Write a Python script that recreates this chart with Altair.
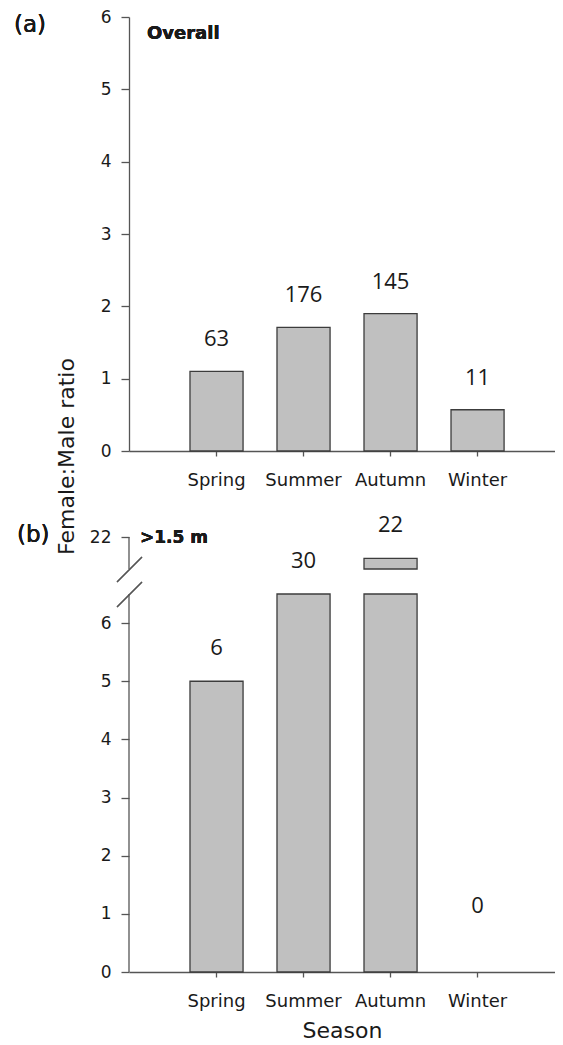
import altair as alt
import pandas as pd

# ---------------- data ----------------
seasons = ["Spring", "Summer", "Autumn", "Winter"]
ratio_overall = [1.1, 1.71, 1.9, 0.57]
n_overall = [63, 176, 145, 11]
ratio_large = [5.0, 6.5, 21.0, 0.0]
n_large = [6, 30, 22, 0]

y_ticks_a = [0, 1, 2, 3, 4, 5, 6]
y_ticks_b = [0, 1, 2, 3, 4, 5, 6, 22]
break_low = 6.5      # axis break starts
break_high = 20.5    # axis break ends
y_top_b = 22
label_floor = 0.57   # minimum anchor height for count labels of empty bars

# ---------------- style ----------------
FONT = "DejaVu Sans"
NUM_FONT = "Open Sans"
FILL = "#c0c0c0"
STROKE = "#3c3c3c"
AXIS = "#555555"
TEXT = "#1a1a1a"
W = 426
HA = 434
HB = 435

df_a = pd.DataFrame({"season": seasons, "ratio": ratio_overall, "n": n_overall})
df_b = pd.DataFrame({"season": seasons, "ratio": ratio_large, "n": n_large})

xscale = alt.Scale(domain=seasons, paddingInner=0.39, paddingOuter=0.643, align=0.545)


def x_axis(show_title):
    kw = dict(labelAngle=0, tickSize=5, labelPadding=15, labelFontSize=18, labelFont=FONT,
              labelColor=TEXT, domainColor=AXIS, tickColor=AXIS, domainWidth=1.3, tickWidth=1.3,
              grid=False)
    if show_title:
        kw.update(titleFont=FONT, titleFontSize=22, titleFontWeight="normal",
                  titleColor=TEXT, titlePadding=10)
    return alt.Axis(**kw)


xa = alt.X("season:N", scale=xscale, sort=seasons, title=None, axis=x_axis(False))
xb = alt.X("season:N", scale=xscale, sort=seasons, title="Season", axis=x_axis(True))

# ---------------- panel (a) ----------------
yaxis_a = alt.Axis(values=y_ticks_a, tickSize=8, labelPadding=10, labelFontSize=17, labelFont=FONT,
                   labelColor=TEXT, domainColor=AXIS, tickColor=AXIS, domainWidth=1.3, tickWidth=1.3,
                   grid=False, titleFont=FONT, titleFontSize=22, titleFontWeight="normal",
                   titleColor=TEXT, titleAngle=270, titleX=-63, titleY=439,
                   titleAlign="center", titleBaseline="middle")
ya = alt.Y("ratio:Q", scale=alt.Scale(domain=[0, 6], nice=False), title="Female:Male ratio",
           axis=yaxis_a)

bars_a = alt.Chart(df_a).mark_bar(fill=FILL, stroke=STROKE, strokeWidth=1.3).encode(x=xa, y=ya)
labels_a = alt.Chart(df_a).mark_text(font=NUM_FONT, fontSize=22, dy=-32, color=TEXT,
                                     baseline="middle").encode(x=xa, y=ya, text="n:Q")
tag_a = alt.Chart(df_a).mark_text(text="(a)", font=FONT, fontSize=23, color=TEXT, align="left",
                                  baseline="middle").encode(x=alt.value(-115), y=alt.value(8))
title_a = alt.Chart(df_a).mark_text(text="Overall", font=FONT, fontSize=18, fontWeight="bold",
                                    color=TEXT, align="left", baseline="middle").encode(
    x=alt.value(18), y=alt.value(17))

panel_a = alt.layer(bars_a, labels_a, tag_a, title_a).properties(width=W, height=HA)

# ---------------- panel (b) ----------------
yscale_b = alt.Scale(domain=[0, break_low, break_high, y_top_b],
                     range=[HB, HB - 378, 32, 0], nice=False, zero=False)
yaxis_b = alt.Axis(values=y_ticks_b, tickSize=8, labelPadding=10, labelFontSize=17, labelFont=FONT,
                   labelColor=TEXT, tickColor=AXIS, tickWidth=1.3, domain=False, grid=False)

bars_lo = alt.Chart(df_b).transform_filter("datum.ratio > 0").transform_calculate(
    lo_top=f"min(datum.ratio, {break_low})", base="0"
).mark_bar(fill=FILL, stroke=STROKE, strokeWidth=1.3).encode(
    x=xb, y=alt.Y("lo_top:Q", scale=yscale_b, axis=yaxis_b, title=None), y2="base:Q")

bars_hi = alt.Chart(df_b).transform_filter(f"datum.ratio > {break_high}").transform_calculate(
    hi_base=f"{break_high}"
).mark_bar(fill=FILL, stroke=STROKE, strokeWidth=1.3).encode(
    x=xb, y=alt.Y("ratio:Q", scale=yscale_b, axis=yaxis_b, title=None), y2="hi_base:Q")

labels_b = alt.Chart(df_b).transform_calculate(
    anchor=f"max(datum.ratio, {label_floor})"
).mark_text(font=NUM_FONT, fontSize=22, dy=-33, color=TEXT, baseline="middle").encode(
    x=xb, y=alt.Y("anchor:Q", scale=yscale_b, axis=yaxis_b, title=None), text="n:Q")

segs = pd.DataFrame({"y0": [0, break_high], "y1": [break_low, y_top_b]})
axis_line_b = alt.Chart(segs).mark_rule(color=AXIS, strokeWidth=1.3).encode(
    x=alt.value(0), y=alt.Y("y0:Q", scale=yscale_b, axis=yaxis_b, title=None), y2="y1:Q")

slash1 = alt.Chart(segs).mark_rule(color=AXIS, strokeWidth=1.3).encode(
    x=alt.value(-12), x2=alt.value(13), y=alt.value(45), y2=alt.value(20))
slash2 = alt.Chart(segs).mark_rule(color=AXIS, strokeWidth=1.3).encode(
    x=alt.value(-12), x2=alt.value(13), y=alt.value(70), y2=alt.value(45))

tag_b = alt.Chart(df_b).mark_text(text="(b)", font=FONT, fontSize=23, color=TEXT, align="left",
                                  baseline="middle").encode(x=alt.value(-112), y=alt.value(-2))
title_b = alt.Chart(df_b).mark_text(text=">1.5 m", font=FONT, fontSize=17, fontWeight="bold",
                                    color=TEXT, align="left", baseline="middle").encode(
    x=alt.value(11), y=alt.value(1))

panel_b = alt.layer(bars_lo, bars_hi, labels_b, axis_line_b, slash1, slash2, tag_b,
                    title_b).properties(width=W, height=HB)

chart = alt.vconcat(panel_a, panel_b, spacing=86, bounds="flush").properties(
    padding={"left": 6, "top": 0, "right": 0, "bottom": 2}, background="white"
).configure_view(strokeWidth=0, stroke="transparent")

chart.save("out.html", embed_options={"renderer": "svg", "actions": False})
